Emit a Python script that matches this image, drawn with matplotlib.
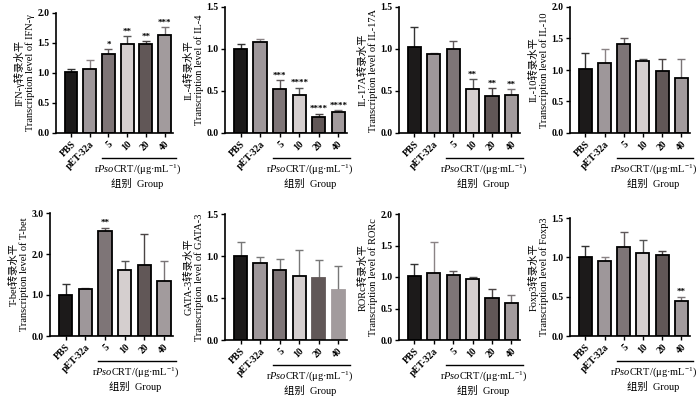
import matplotlib
matplotlib.use("Agg")
import matplotlib.pyplot as plt
import matplotlib.transforms as mtransforms

plt.rcParams['font.family'] = ['Liberation Serif', 'Noto Sans CJK SC']
plt.rcParams['mathtext.fontset'] = 'custom'
plt.rcParams['mathtext.rm'] = 'Liberation Serif'
plt.rcParams['mathtext.it'] = 'Liberation Serif:italic'

# groups on the x axis
groups = ['PBS', 'pET-32a', '5', '10', '20', '40']
bar_colors = ['#1c1a1a', '#9e979a', '#7e7577', '#d5cfcf', '#615757', '#a29b9d']
err_colors = ['#333333', '#8a8385', '#5f585a', '#555555', '#4a4444', '#7a7476']

# one panel per gene: mean, upper error (top of whisker), significance
genes = ['IFN-γ', 'IL-4', 'IL-17A', 'IL-10', 'T-bet', 'GATA-3', 'RORc', 'Foxp3']

ifng_mean = [1.01, 1.07, 1.32, 1.49, 1.48, 1.63]
ifng_top = [1.07, 1.22, 1.40, 1.61, 1.53, 1.76]
ifng_sig = ['', '', '*', '**', '**', '***']

il4_mean = [1.00, 1.08, 0.52, 0.455, 0.19, 0.255]
il4_top = [1.06, 1.12, 0.63, 0.54, 0.23, 0.27]
il4_sig = ['', '', '***', '****', '****', '****']

il17a_mean = [1.02, 0.94, 1.00, 0.52, 0.44, 0.45]
il17a_top = [1.26, 0.95, 1.10, 0.64, 0.53, 0.52]
il17a_sig = ['', '', '', '**', '**', '**']

il10_mean = [1.02, 1.11, 1.41, 1.14, 0.98, 0.88]
il10_top = [1.27, 1.34, 1.50, 1.18, 1.17, 1.17]
il10_sig = ['', '', '', '', '', '']

tbet_mean = [1.00, 1.14, 2.57, 1.61, 1.74, 1.35]
tbet_top = [1.28, 1.18, 2.64, 1.83, 2.49, 1.83]
tbet_sig = ['', '', '**', '', '', '']

gata3_mean = [1.00, 0.92, 0.835, 0.76, 0.74, 0.59]
gata3_top = [1.17, 0.99, 0.96, 1.07, 0.955, 0.88]
gata3_sig = ['', '', '', '', '', '']

rorc_mean = [1.02, 1.06, 1.03, 0.97, 0.66, 0.58]
rorc_top = [1.20, 1.56, 1.10, 1.00, 0.81, 0.72]
rorc_sig = ['', '', '', '', '', '']

foxp3_mean = [1.00, 0.95, 1.13, 1.055, 1.03, 0.44]
foxp3_top = [1.15, 1.01, 1.32, 1.215, 1.075, 0.50]
foxp3_sig = ['', '', '', '', '', '**']

means = [ifng_mean, il4_mean, il17a_mean, il10_mean, tbet_mean, gata3_mean, rorc_mean, foxp3_mean]
tops = [ifng_top, il4_top, il17a_top, il10_top, tbet_top, gata3_top, rorc_top, foxp3_top]
sigs = [ifng_sig, il4_sig, il17a_sig, il10_sig, tbet_sig, gata3_sig, rorc_sig, foxp3_sig]
ymax = [2.0, 1.5, 1.5, 2.0, 3.0, 1.5, 2.0, 1.5]
ystep = [0.5, 0.5, 0.5, 0.5, 1.0, 0.5, 0.5, 0.5]

# axes boxes in pixels: left, top, right, bottom
boxes = [(56, 13, 173, 133), (225, 7, 347, 133), (399, 7, 520, 133), (570, 7, 690, 133),
         (50, 213, 173, 336), (225, 214, 347, 340), (399, 214, 520, 340), (570, 218, 690, 336)]

W, H = 700, 399
fig = plt.figure(figsize=(W / 100, H / 100), dpi=100)

for k, gene in enumerate(genes):
    l, t, r, b = boxes[k]
    ax = fig.add_axes([l / W, 1 - b / H, (r - l) / W, (b - t) / H])
    x = list(range(len(groups)))
    m = means[k]
    up = [tops[k][i] - m[i] for i in x]
    low = [0] * len(x)

    edges = ['black'] * 6
    ecol = list(err_colors)
    if gene == 'GATA-3':
        edges = ['black', 'black', 'black', 'black', bar_colors[4], bar_colors[5]]
        ecol = ['#777777'] * 6

    for i in x:
        ax.errorbar(x[i], m[i], yerr=[[low[i]], [up[i]]], fmt='none',
                    ecolor=ecol[i], elinewidth=1.0, capsize=3, capthick=1.0, zorder=1)
    ax.bar(x, m, width=0.68, color=bar_colors, edgecolor=edges, linewidth=1.3, zorder=2)

    for i in x:
        if sigs[k][i]:
            ax.annotate(sigs[k][i], (x[i], tops[k][i]), xytext=(0, 0.5),
                        textcoords='offset points', ha='center', va='bottom',
                        fontsize=6.5, fontweight='bold')

    ax.set_xlim(-0.8, 5.45)
    ax.set_ylim(0, ymax[k])
    n = int(round(ymax[k] / ystep[k]))
    ticks = [ystep[k] * j for j in range(n + 1)]
    ax.set_yticks(ticks)
    ax.set_yticklabels(['%.1f' % v for v in ticks], fontsize=7, fontweight='bold')
    ax.set_xticks(x)
    ax.set_xticklabels(groups, rotation=45, ha='right', rotation_mode='anchor',
                       fontsize=7, fontweight='bold')
    ax.spines['top'].set_visible(False)
    ax.spines['right'].set_visible(False)
    ax.spines['left'].set_linewidth(1.2)
    ax.spines['bottom'].set_linewidth(1.2)
    ax.tick_params(axis='both', width=1.0, length=3, pad=1.5)
    ax.set_ylabel(gene + '转录水平\nTranscription level of ' + gene, fontsize=7.5,
                  labelpad=2, linespacing=1.1)

    # bracket under the rPsoCRT doses
    trans = mtransforms.offset_copy(ax.get_xaxis_transform(), fig=fig, y=-25, units='dots')
    ax.plot([1.65, 5.6], [0, 0], color='black', linewidth=1.0, transform=trans, clip_on=False)
    trans2 = mtransforms.offset_copy(ax.get_xaxis_transform(), fig=fig, y=-29, units='dots')
    ax.text(3.55, 0, r'r$\it{Pso}$CRT/(μg·mL$^{-1}$)', transform=trans2,
            ha='center', va='top', fontsize=7.5)
    trans3 = mtransforms.offset_copy(ax.get_xaxis_transform(), fig=fig, y=-45, units='dots')
    ax.text(3.55, 0, '组别  Group', transform=trans3, ha='center', va='top', fontsize=7.5)

fig.savefig('out.png', dpi=100)
